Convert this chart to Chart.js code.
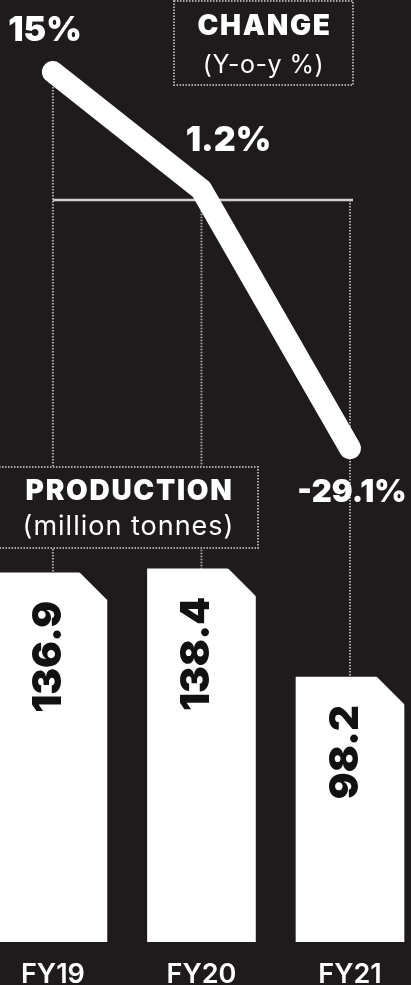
<!DOCTYPE html>
<html>
<head>
<meta charset="utf-8">
<title>Production and change</title>
<script src="https://cdn.jsdelivr.net/npm/chart.js@4.4.0/dist/chart.umd.min.js"></script>
<style>
  html, body { margin: 0; padding: 0; background: #1f1b1d; }
  canvas { display: block; }
</style>
</head>
<body>
<canvas id="myChart" width="411" height="985"></canvas>
<script>
const years = ["FY19", "FY20", "FY21"];
const production = [136.9, 138.4, 98.2]; // million tonnes
const change = [15, 1.2, -29.1]; // y-o-y %

const BG = "#1f1b1d";
const FONT = "Inter, 'Noto Sans', sans-serif";

// where each % label sits relative to its point
const pctOffsets = [[-8, -41], [27, -49], [2, 44]];

function dotted(ctx, w) {
  ctx.strokeStyle = "rgba(175, 175, 175, 0.95)";
  ctx.lineWidth = w;
  ctx.setLineDash([1.5, 1.5]);
}

function box(ctx, x, y, w, h, title, sub, subSize, titleY, subY) {
  ctx.fillStyle = BG;
  ctx.fillRect(x, y, w, h);
  dotted(ctx, 2);
  ctx.strokeRect(x + 1, y + 1, w - 2, h - 2);
  ctx.setLineDash([]);
  ctx.fillStyle = "#fff";
  ctx.textAlign = "center";
  ctx.textBaseline = "middle";
  ctx.font = `900 28px ${FONT}`;
  ctx.letterSpacing = "1.7px";
  ctx.fillText(title, x + w / 2 + 1, y + titleY);
  ctx.font = `400 ${subSize}px ${FONT}`;
  ctx.letterSpacing = subSize > 25 ? "1px" : "0.5px";
  ctx.fillText(sub, x + w / 2, y + subY);
  ctx.letterSpacing = "0px";
}

const decor = {
  id: "decor",
  beforeDatasetsDraw(chart) {
    const ctx = chart.ctx;
    const bars = chart.getDatasetMeta(0).data;
    const pts = chart.getDatasetMeta(1).data;
    const zero = chart.scales.y2.getPixelForValue(0);
    ctx.save();
    // drop lines from the change line down to the bars
    dotted(ctx, 2);
    bars.forEach((bar, i) => {
      ctx.beginPath();
      ctx.moveTo(pts[i].x, Math.min(pts[i].y, zero));
      ctx.lineTo(pts[i].x, bar.y);
      ctx.stroke();
    });
    // zero line
    ctx.setLineDash([]);
    ctx.strokeStyle = "#cfcfcf";
    ctx.lineWidth = 2.5;
    ctx.beginPath();
    ctx.moveTo(pts[0].x, zero);
    ctx.lineTo(chart.chartArea.right + 3, zero);
    ctx.stroke();
    ctx.restore();
  },
  afterDatasetDraw(chart, args) {
    if (args.index !== 0) return;
    // cut the top-right corner off each bar
    const ctx = chart.ctx;
    ctx.save();
    ctx.fillStyle = BG;
    args.meta.data.forEach((bar) => {
      const right = bar.x + bar.width / 2;
      ctx.beginPath();
      ctx.moveTo(right - 28, bar.y - 1);
      ctx.lineTo(right + 1, bar.y - 1);
      ctx.lineTo(right + 1, bar.y + 28);
      ctx.closePath();
      ctx.fill();
    });
    ctx.restore();
  },
  afterDatasetsDraw(chart) {
    const ctx = chart.ctx;
    const bars = chart.getDatasetMeta(0).data;
    const pts = chart.getDatasetMeta(1).data;
    ctx.save();

    box(ctx, 173, 0, 181, 86, "CHANGE", "(Y-o-y %)", 25, 27, 65);
    box(ctx, -2, 466, 261, 83, "PRODUCTION", "(million tonnes)", 27, 26, 61);

    // % labels
    ctx.fillStyle = "#fff";
    ctx.textAlign = "center";
    ctx.textBaseline = "middle";
    pts.forEach((p, i) => {
      ctx.font = `900 ${i === 2 ? 31 : 34}px ${FONT}`;
      ctx.fillText(change[i] + "%", p.x + pctOffsets[i][0], p.y + pctOffsets[i][1]);
    });

    // production values, rotated inside the bars
    ctx.fillStyle = "#111";
    ctx.font = `900 40px ${FONT}`;
    ctx.textAlign = "right";
    bars.forEach((bar, i) => {
      ctx.save();
      ctx.translate(bar.x - 4, bar.y + 28);
      ctx.rotate(-Math.PI / 2);
      ctx.fillText(production[i].toFixed(1), 0, 0);
      ctx.restore();
    });
    ctx.restore();
  }
};

const ctx = document.getElementById("myChart").getContext("2d");
const myChart = new Chart(ctx, {
  data: {
    labels: years,
    datasets: [
      {
        type: "bar",
        data: production,
        yAxisID: "y",
        backgroundColor: "#ffffff",
        borderWidth: 0,
        barThickness: 108,
        clip: false,
        order: 2,
      },
      {
        type: "line",
        data: change,
        yAxisID: "y2",
        borderColor: "#ffffff",
        borderWidth: 22,
        borderCapStyle: "round",
        borderJoinStyle: "round",
        pointRadius: 0,
        tension: 0,
        clip: false,
        order: 1,
      },
    ],
  },
  options: {
    responsive: false,
    animation: false,
    devicePixelRatio: 1,
    layout: { padding: { left: 51, right: 61, top: 0, bottom: -23 } },
    plugins: { legend: { display: false }, tooltip: { enabled: false } },
    scales: {
      x: {
        offset: false,
        grid: { display: false, drawTicks: false, offset: false },
        border: { display: false },
        ticks: {
          color: "#ffffff",
          padding: 21,
          maxRotation: 0,
          font: { family: FONT, size: 27, weight: "600", lineHeight: 0.9 },
        },
      },
      y: { display: false, min: 0, max: 349.5 },
      y2: { display: false, min: -86.95, max: 23.44 },
    },
  },
  plugins: [decor],
});
</script>
</body>
</html>
